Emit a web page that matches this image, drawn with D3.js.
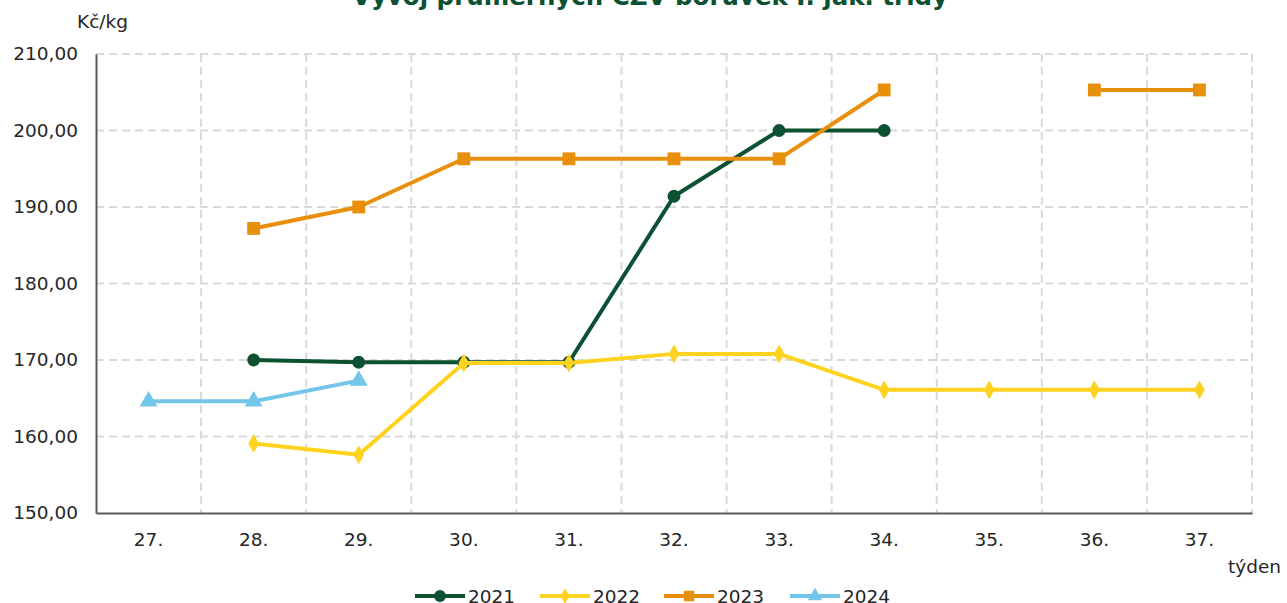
<!DOCTYPE html>
<html><head><meta charset="utf-8">
<script src="https://cdn.jsdelivr.net/npm/d3@7"></script>
<style>body{margin:0;background:#fff;overflow:hidden}svg{display:block}text{font-family:"DejaVu Sans",Verdana,sans-serif}</style>
</head><body>
<svg id="c" width="1287" height="603"></svg>
<script>
const weeks = ["27.","28.","29.","30.","31.","32.","33.","34.","35.","36.","37."];
const s2021 = [null,170.0,169.7,169.7,169.7,191.4,200.0,200.0,null,null,null];
const s2022 = [null,159.1,157.6,169.6,169.6,170.8,170.8,166.1,166.1,166.1,166.1];
const s2023 = [null,187.2,190.0,196.3,196.3,196.3,196.3,205.3,null,205.3,205.3];
const s2024 = [164.6,164.6,167.3,null,null,null,null,null,null,null,null];
const yTicks = [150,160,170,180,190,200,210];
const seriesNames = ["2021","2022","2023","2024"];
const seriesColors = ["#0b5132","#ffd21f","#e8900c","#74c5ea"];
const seriesSymbols = [d3.symbolCircle, d3.symbolDiamond, d3.symbolSquare, d3.symbolTriangle];
const seriesData = [s2021,s2022,s2023,s2024];
const title = "Vývoj průměrných CZV borůvek I. jak. třídy";

const svg = d3.select("#c");
const L=96,R=1252,T=54,B=513;
const FS=18.5;
const x = d3.scaleBand().domain(weeks).range([L,R]);
const y = d3.scaleLinear().domain([150,210]).range([B,T]);

svg.append("text").attr("x",650).attr("y",5).attr("text-anchor","middle")
  .attr("font-size",24.5).attr("font-weight","bold").attr("fill","#0b5132").text(title);

// grid
const g = svg.append("g");
g.selectAll(".hg").data(yTicks.filter(d=>d>150)).enter().append("line")
  .attr("x1",L).attr("x2",R).attr("y1",d=>y(d)).attr("y2",d=>y(d))
  .attr("stroke","#d9d9d9").attr("stroke-width",2).attr("stroke-dasharray","8,5");
const vb = weeks.slice(1).map(w=>x(w)).concat([R]);
g.selectAll(".vg").data(vb).enter().append("line")
  .attr("x1",d=>d).attr("x2",d=>d)
  .attr("y1",T).attr("y2",B).attr("stroke","#d9d9d9").attr("stroke-width",2).attr("stroke-dasharray","8,5");

// axes
const yAxis = d3.axisLeft(y).tickValues(yTicks).tickSize(0).tickPadding(18)
  .tickFormat(d=>d3.format(".2f")(d).replace(".",","));
const ya = svg.append("g").attr("transform",`translate(${L},0)`).call(yAxis);
ya.select(".domain").attr("stroke","#595959").attr("stroke-width",2);
ya.selectAll("text").attr("font-size",FS).attr("fill","#262626");

const xAxis = d3.axisBottom(x).tickSize(0).tickPadding(20);
const xa = svg.append("g").attr("transform",`translate(0,${B})`).call(xAxis);
xa.select(".domain").attr("stroke","#595959").attr("stroke-width",2);
xa.selectAll("text").attr("font-size",FS).attr("fill","#262626");

svg.append("text").attr("x",77).attr("y",28).attr("font-size",FS).attr("fill","#262626").text("Kč/kg");
svg.append("text").attr("x",1228).attr("y",573).attr("font-size",FS).attr("fill","#262626").text("týden");

// series
seriesData.forEach((data,i)=>{
  const pts = data.map((v,j)=>({w:weeks[j],v})).filter(d=>d.v!=null);
  const line = d3.line().defined(d=>d.v!=null).x(d=>x(d.w)+x.bandwidth()/2).y(d=>y(d.v));
  svg.append("path").datum(data.map((v,j)=>({w:weeks[j],v})))
    .attr("d",line).attr("fill","none").attr("stroke",seriesColors[i]).attr("stroke-width",4)
    .attr("stroke-linejoin","round");
  const sz = [130,100,165,140][i];
  svg.selectAll(null).data(pts).enter().append("path")
    .attr("transform",d=>`translate(${x(d.w)+x.bandwidth()/2},${y(d.v)})`)
    .attr("d",d3.symbol().type(seriesSymbols[i]).size(sz)).attr("fill",seriesColors[i]);
});

// legend
const lx=[415,540,664,790];
seriesNames.forEach((n,i)=>{
  const lg = svg.append("g").attr("transform",`translate(${lx[i]},596)`);
  lg.append("line").attr("x1",0).attr("x2",50).attr("stroke",seriesColors[i]).attr("stroke-width",4);
  lg.append("path").attr("transform","translate(25,0)")
    .attr("d",d3.symbol().type(seriesSymbols[i]).size([110,70,110,90][i])).attr("fill",seriesColors[i]);
  lg.append("text").attr("x",53).attr("y",7).attr("font-size",FS).attr("fill","#262626").text(n);
});
</script>
</body></html>
